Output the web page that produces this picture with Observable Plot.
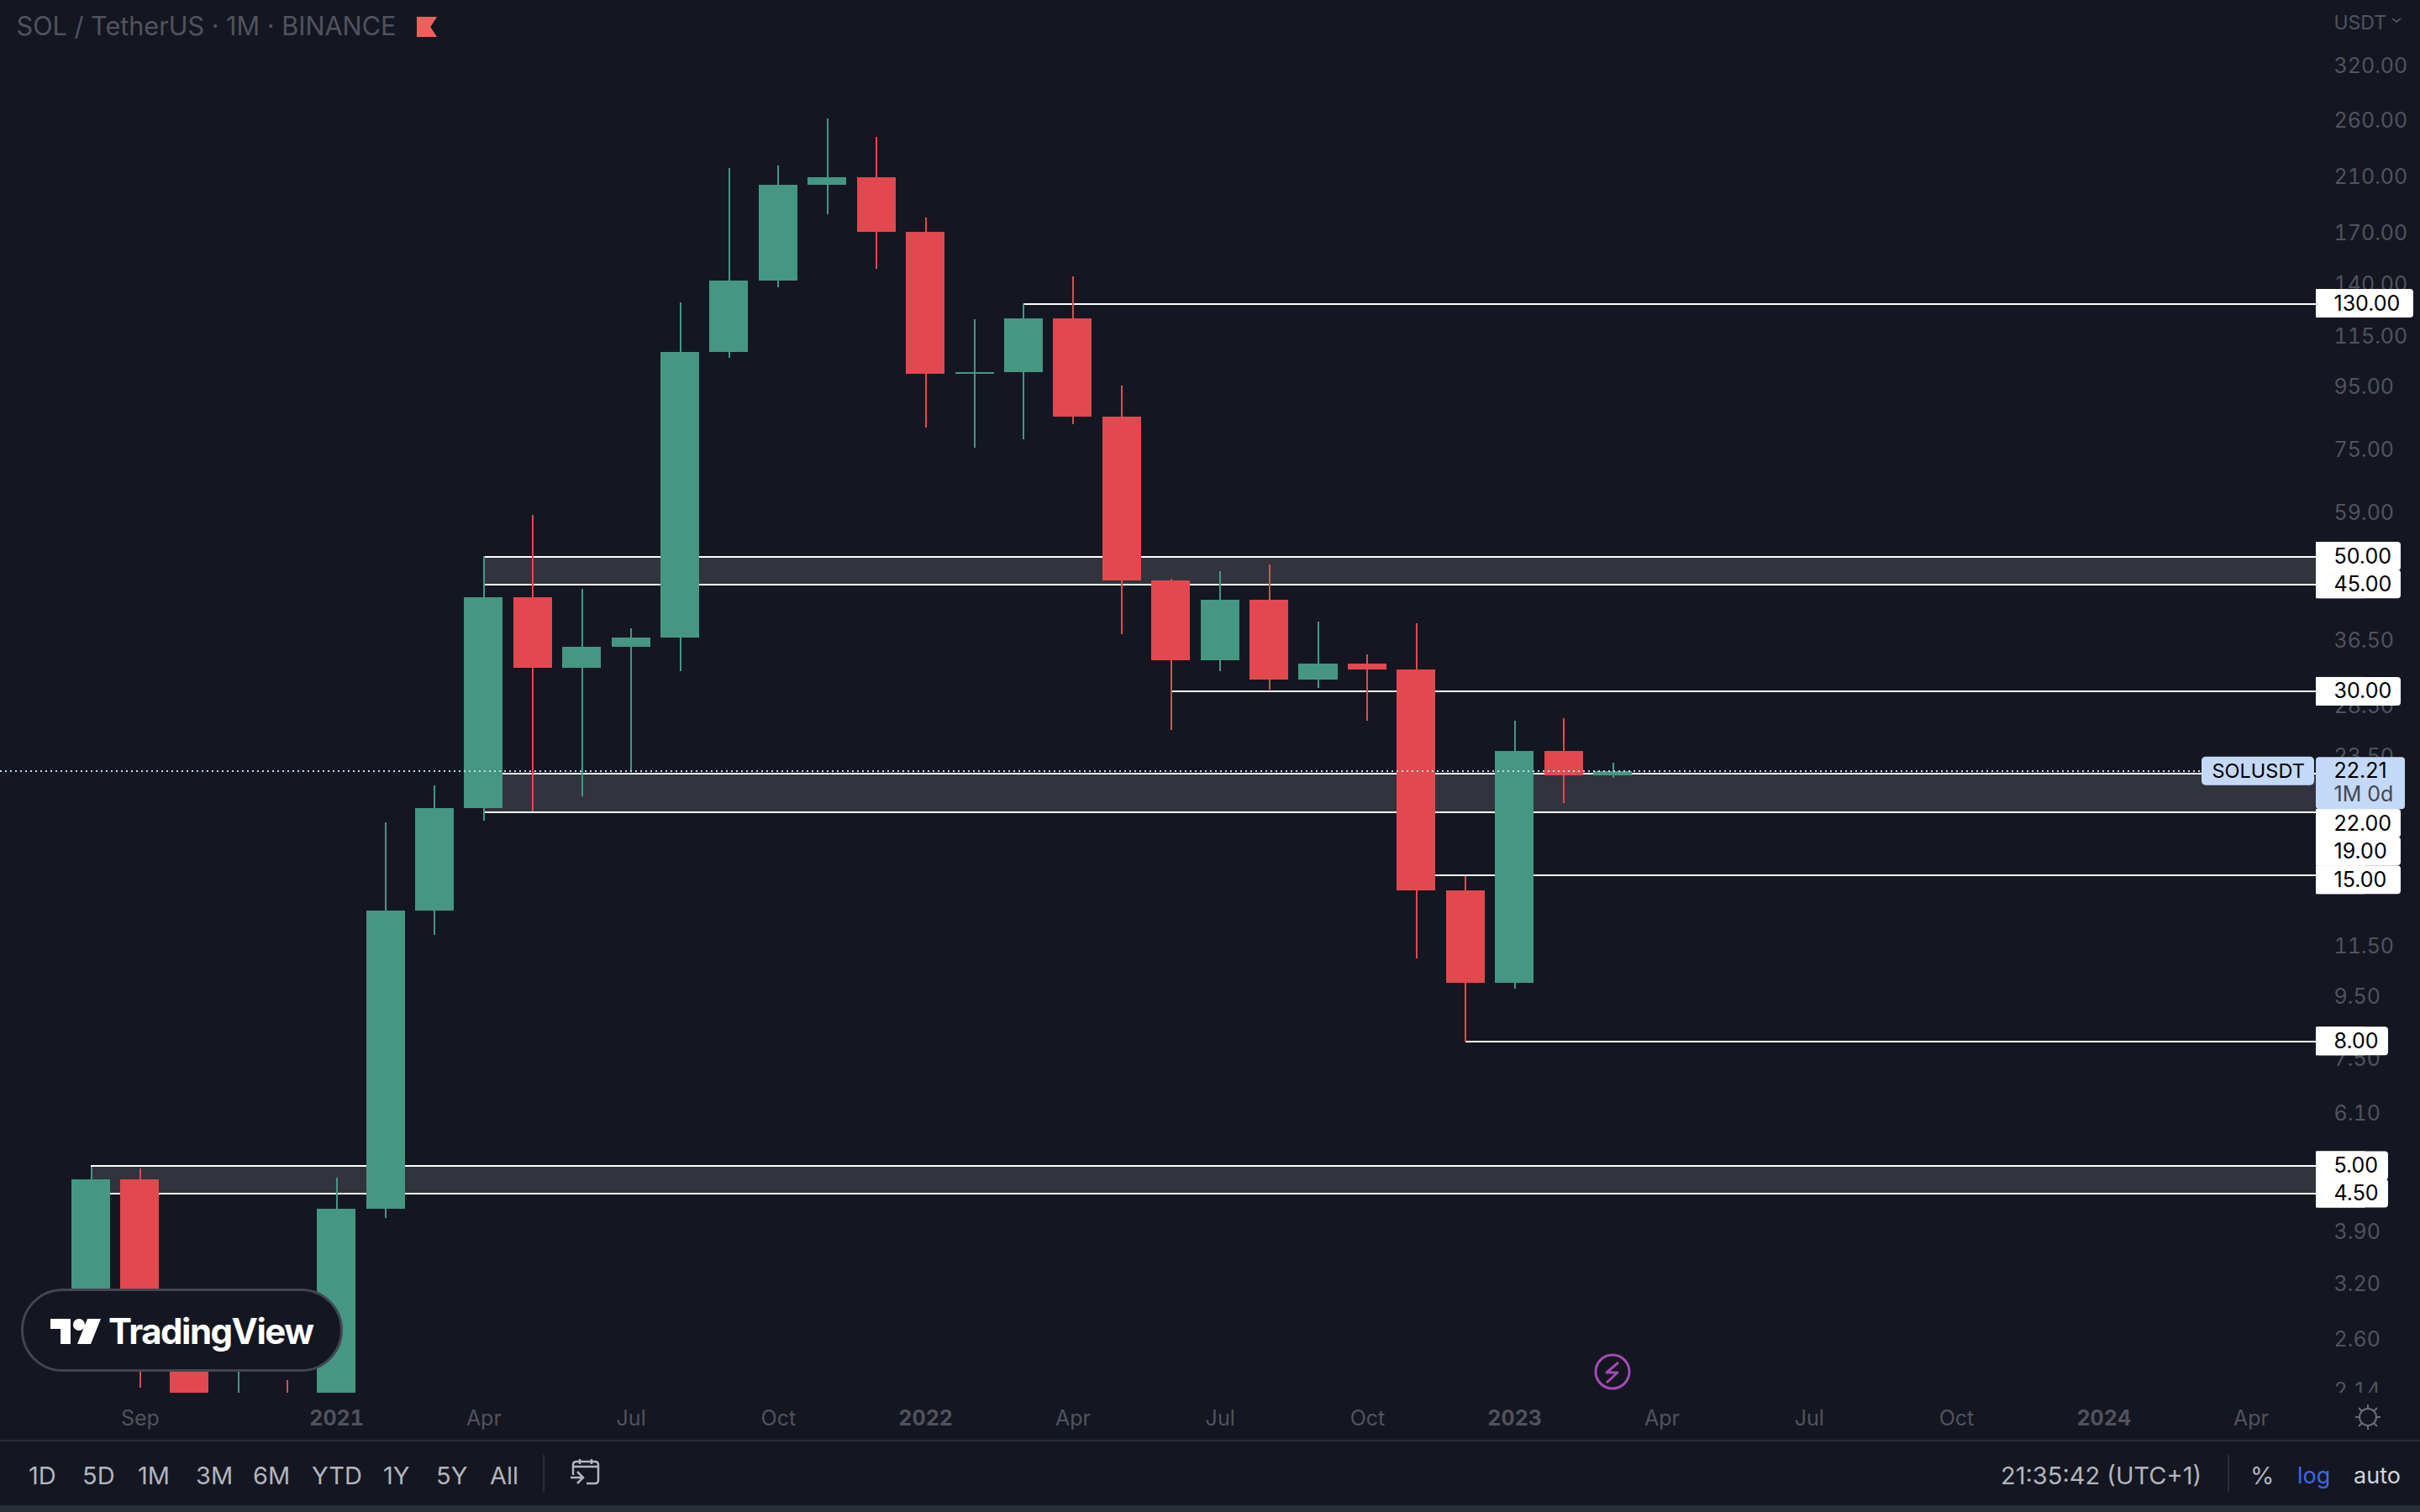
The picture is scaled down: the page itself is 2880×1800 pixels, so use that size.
<!DOCTYPE html>
<html>
<head>
<meta charset="utf-8">
<title>SOL / TetherUS 1M</title>
<script src="https://cdn.jsdelivr.net/npm/d3@7"></script>
<script src="https://cdn.jsdelivr.net/npm/@observablehq/plot@0.6"></script>
<style>
  html,body{margin:0;padding:0;background:#141721;}
  #wrap{position:relative;width:2880px;height:1800px;overflow:hidden;background:#141721;font-family:Inter,"Liberation Sans",sans-serif;}
  #chart svg{display:block;}
  #bar{position:absolute;left:0;top:1714px;width:2880px;height:78px;border-top:2px solid #2a2e39;box-sizing:border-box;}
  #strip{position:absolute;left:0;top:1792px;width:2880px;height:8px;background:#2a2e39;}
  .b{position:absolute;top:25px;font-size:29px;line-height:32px;color:#b2b5be;white-space:nowrap;}
  .sep{position:absolute;top:16px;width:2px;height:44px;background:#2a2e39;}
  .ov{position:absolute;}
</style>
</head>
<body>
<div id="wrap">
  <div id="chart"></div>
  <div class="ov" style="left:496px;top:20px;width:24px;height:24px;background:#f0605a;clip-path:polygon(0 0,100% 0,68% 50%,100% 100%,0 100%)"></div>
  <svg class="ov" style="left:2846px;top:20px" width="12" height="10"><path d="M1 2 L6 6 L11 2" fill="none" stroke="#50535e" stroke-width="2"/></svg>
  <div class="ov" style="left:25px;top:1534px;width:383px;height:99px;box-sizing:border-box;border:3px solid #434651;border-radius:50px;background:#141721"></div>
  <svg class="ov" style="left:56px;top:1566px" width="70" height="38">
    <path d="M4 4 H28 V34 H16 V16 H4 Z M48 4 H64 L52 34 H36 Z" fill="#fff"/><circle cx="38" cy="11" r="7" fill="#fff"/>
  </svg>
  <div class="ov" id="tv" style="left:129px;top:1558px;font-size:42px;line-height:54px;font-weight:700;color:#fff;letter-spacing:-1.5px;">TradingView</div>
  <svg class="ov" style="left:1895px;top:1609px" width="48" height="48">
    <circle cx="24" cy="24" r="20" fill="none" stroke="#a24bb5" stroke-width="3"/>
    <path d="M31 13 L17 25 H30 L17 37" fill="none" stroke="#a24bb5" stroke-width="3" stroke-linejoin="round"/>
  </svg>
  <svg class="ov" style="left:2802px;top:1671px" width="32" height="32">
    <g fill="none" stroke="#6a6d78" stroke-width="2"><circle cx="16" cy="16" r="10"/>
    <path d="M16 1V6 M16 26V31 M1 16H6 M26 16H31 M5 5L9 9 M23 23L27 27 M5 27L9 23 M23 9L27 5"/></g>
  </svg>
  <div id="bar">
    <span class="b" style="left:34px">1D</span><span class="b" style="left:98px">5D</span><span class="b" style="left:164px">1M</span>
    <span class="b" style="left:233px">3M</span><span class="b" style="left:301px">6M</span><span class="b" style="left:371px">YTD</span>
    <span class="b" style="left:456px">1Y</span><span class="b" style="left:519px">5Y</span><span class="b" style="left:583px">All</span>
    <div class="sep" style="left:646px"></div>
    <svg class="ov" style="left:678px;top:20px" width="40" height="36"><g fill="none" stroke="#b2b5be" stroke-width="2.5">
      <path d="M4 20 V8 Q4 4 8 4 H30 Q34 4 34 8 V26 Q34 30 30 30 H20 M4 10 H34 M12 1 V7 M26 1 V7 M1 23 H16 M9 16 L16 23 L9 30"/></g></svg>
    <span class="b" style="left:2381px">21:35:42 (UTC+1)</span>
    <div class="sep" style="left:2651px"></div>
    <span class="b" style="left:2678px">%</span>
    <span class="b" style="left:2734px;font-size:27px;color:#3d68e8">log</span>
    <span class="b" style="left:2801px;font-size:27px;color:#d1d4dc">auto</span>
  </div>
  <div id="strip"></div>
</div>
<script>
// One value per month, August 2020 to March 2023
const opens  = [2.85,4.74,3.0,1.55,1.85,1.5,4.25,13.1,19.3,42.8,32.8,35.5,36.75,108.1,141.6,203.4,209.3,170.3,99.6,100.1,122.8,84.7,45.6,33.7,42.4,31.4,33.3,32.6,14.13,9.97,23.95,21.84];
const closes = [4.74,3.0,1.55,1.85,1.5,4.25,13.1,19.3,42.8,32.8,35.5,36.75,108.1,141.6,203.4,209.3,170.3,99.6,100.1,122.8,84.7,45.6,33.7,42.4,31.4,33.3,32.6,14.13,9.97,23.95,21.84,22.21];
const highs  = [4.98,4.94,3.1,2.6,2.22,4.78,18.3,21.0,50.0,58.4,44.2,38.06,130.5,216.8,218.8,261.4,243.8,179.7,122.4,130.0,143.9,95.2,45.9,47.2,48.4,39.0,34.5,38.8,14.92,26.84,27.1,22.9];
const lows   = [2.6,2.16,1.3,1.2,1.1,1.45,4.1,11.95,18.4,19.06,20.2,22.2,32.4,105.8,138.1,182,148,81.3,75.3,77.7,82.3,37.2,25.9,32.4,30.2,30.4,26.84,10.93,7.98,9.76,19.67,21.6];

// Right-hand price axis
const priceTicks = [320,260,210,170,140,115,95,75,59,36.5,28.5,23.5,11.5,9.5,7.5,6.1,3.9,3.2,2.6,2.14];

// Time axis: months since August 2020
const monthTicks  = [1,8,11,14,20,23,26,32,35,38,44];
const monthLabels = ["Sep","Apr","Jul","Oct","Apr","Jul","Oct","Apr","Jul","Oct","Apr"];
const yearTicks   = [5,17,29,41];
const yearLabels  = ["2021","2022","2023","2024"];

// Drawn zones and levels
const zoneFrom = [0,8,8];
const zoneLow  = [4.5,19,45];
const zoneHigh = [5,22,50];
const levelPrices = [130,50,45,30,22,19,15,8,5,4.5];
const levelFrom   = [19,8,8,22,8,8,27,28,0,0];
const levelTagAt  = [130,50,45,30,18.22,16.4,14.72,8,5,4.5];
const levelTags   = ["130.00","50.00","45.00","30.00","22.00","19.00","15.00","8.00","5.00","4.50"];

const lastPrice = 22.21;
const lastTagMid = 21.2;
const xStart = -108/58.42, xEnd = (2880-108)/58.42;
const edge = (2756-108)/58.42;
const symLeft = (2620-108)/58.42, symRight = (2754-108)/58.42;
const tagLeftText = (2777-108)/58.42;

const GREEN="#459782", RED="#e1494f", TICK="#50535e", BG="#141721", WHITE="#ffffff", BLUE="#c3d9f7", FONT="Inter,'Liberation Sans',sans-serif";
const candles = opens.map((o,i)=>({t:i,o,c:closes[i],h:highs[i],l:lows[i]}));
const zones = zoneFrom.map((f,i)=>({f,lo:zoneLow[i],hi:zoneHigh[i]}));
const levels = levelPrices.map((p,i)=>({p,f:levelFrom[i],at:levelTagAt[i],s:levelTags[i]}));
const tagRight = s => edge + (86+(s.length-4)*15)/58.42;

function candleMarks(rows,color){
  return [
    Plot.ruleX(rows,{x:"t",y1:"l",y2:"h",stroke:color,strokeWidth:2,clip:true,shapeRendering:"crispEdges"}),
    Plot.rect(rows,{x1:d=>d.t-0.5,x2:d=>d.t+0.5,y1:"o",y2:"c",insetLeft:6.2,insetRight:6.2,fill:color,clip:true,shapeRendering:"crispEdges"})
  ];
}

const fig = Plot.plot({
  width:2880,height:1714,marginTop:0,marginBottom:56,marginLeft:0,marginRight:0,
  style:{background:BG,fontFamily:FONT},
  x:{type:"linear",domain:[xStart,xEnd]},
  y:{type:"log",domain:[2.118,408.9]},
  marks:[
    Plot.text(["SOL / TetherUS · 1M · BINANCE"],{text:d=>d,frameAnchor:"top-left",dx:19,dy:20,lineAnchor:"top",fontSize:30.6,fill:TICK}),
    Plot.text(["USDT"],{text:d=>d,frameAnchor:"top-left",dx:2777,dy:18,lineAnchor:"top",fontSize:23,fill:TICK}),
    Plot.axisX(monthTicks,{anchor:"bottom",tickSize:0,tickPadding:21,label:null,tickFormat:d=>monthLabels[monthTicks.indexOf(d)],fontSize:25,fill:TICK}),
    Plot.axisX(yearTicks,{anchor:"bottom",tickSize:0,tickPadding:21,label:null,tickFormat:d=>yearLabels[yearTicks.indexOf(d)],fontSize:25,fontWeight:700,fill:TICK}),
    Plot.axisY(priceTicks,{anchor:"left",tickSize:0,tickPadding:0,label:null,dx:2777,dy:1,textAnchor:"start",tickFormat:d=>d.toFixed(2),fontSize:25,fill:TICK,clip:true}),
    Plot.rect(zones,{x1:"f",x2:()=>edge,y1:"lo",y2:"hi",fill:"#31343d"}),
    Plot.ruleY(levels,{y:"p",x1:"f",x2:()=>edge,stroke:WHITE,strokeWidth:2,shapeRendering:"crispEdges"}),
    Plot.ruleX(zones,{x:"f",y1:"lo",y2:"hi",stroke:WHITE,strokeWidth:2,shapeRendering:"crispEdges"}),
    ...candleMarks(candles.filter(d=>d.c>=d.o),GREEN),
    ...candleMarks(candles.filter(d=>d.c<d.o),RED),
    Plot.ruleY([lastPrice],{x1:()=>xStart,x2:()=>symLeft,stroke:BLUE,strokeWidth:2,strokeDasharray:"2,4",shapeRendering:"crispEdges"}),
    Plot.rect(levels,{x1:()=>edge,x2:d=>tagRight(d.s),y1:"at",y2:"at",insetTop:-17,insetBottom:-17,fill:WHITE,rx:4}),
    Plot.rect(levels,{x1:()=>edge,x2:()=>edge+1,y1:"at",y2:"at",insetTop:-17,insetBottom:-17,fill:WHITE}),
    Plot.text(levels,{x:()=>tagLeftText,y:"at",text:"s",textAnchor:"start",fontSize:25,fill:"#000"}),
    Plot.rect([lastPrice],{x1:()=>symLeft,x2:()=>symRight,y1:d=>d,y2:d=>d,insetTop:-17,insetBottom:-17,fill:BLUE,rx:5}),
    Plot.text(["SOLUSDT"],{x:()=>symLeft+12/58.42,y:()=>lastPrice,text:d=>d,textAnchor:"start",fontSize:23.5,fill:"#000"}),
    Plot.rect([lastTagMid],{x1:()=>edge,x2:()=>edge+106/58.42,y1:d=>d,y2:d=>d,insetTop:-31,insetBottom:-31,fill:BLUE,rx:4}),
    Plot.text([lastPrice],{x:()=>tagLeftText,y:d=>d,text:d=>d.toFixed(2),textAnchor:"start",fontSize:25,fill:"#000"}),
    Plot.text(["1M 0d"],{x:()=>tagLeftText,y:()=>lastPrice,dy:28,text:d=>d,textAnchor:"start",fontSize:25,fill:"#434651"})
  ]
});
document.getElementById("chart").appendChild(fig);
</script>
</body>
</html>
